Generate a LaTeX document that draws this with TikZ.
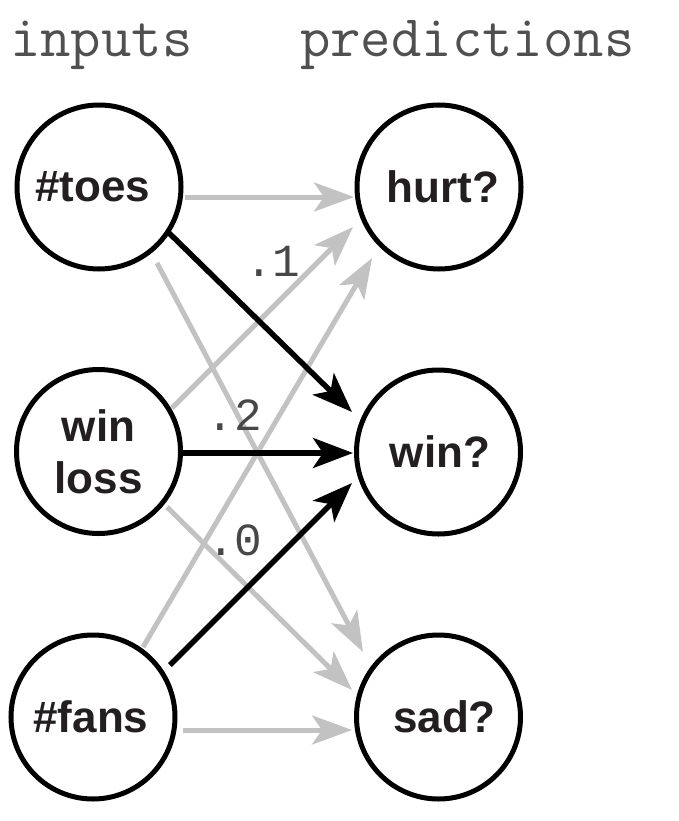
\documentclass[tikz,border=0pt]{standalone}
\usepackage{fontspec}
\setmainfont{Liberation Sans}
\newfontfamily\monofont{Liberation Mono}
\usetikzlibrary{arrows.meta}
\definecolor{txt}{HTML}{231F20}
\definecolor{hdr}{HTML}{505050}
\definecolor{lbl}{HTML}{474747}
\definecolor{weakgray}{HTML}{C2C2C2}
\begin{document}
\begin{tikzpicture}[x=1pt,y=-1pt,
  neuron/.style={circle,draw=black,line width=5pt,minimum size=164pt,inner sep=0pt,
    font=\fontsize{44}{52}\selectfont\bfseries,text=txt,align=center},
  weak/.style={draw=weakgray,fill=weakgray,line width=5pt,
    -{Stealth[length=40pt,width=29pt,inset=10pt]}},
  strong/.style={draw=black,fill=black,line width=5.5pt,
    -{Stealth[length=40pt,width=30pt,inset=10pt]}},
  header/.style={font=\fontsize{59}{62}\selectfont\ttfamily,text=hdr,anchor=base west,inner sep=0pt},
  wlabel/.style={font=\fontsize{46}{50}\selectfont\monofont,text=lbl,anchor=base,inner sep=0pt}]
\useasboundingbox (0,0) rectangle (679,821);

% headers
\node[header] (hin) at (10,57) {inputs};
\node[header] (hout) at (300,57) {predictions};

% neurons
\node[neuron] (toes) at (99,187) {\hspace*{-12pt}\#toes};
\node[neuron] (wl) at (98.5,451.5) {win\\loss};
\node[neuron] (fans) at (93,717) {\hspace*{-4pt}\#fans};
\node[neuron] (hurt) at (439,187) {\hspace*{8pt}hurt?};
\node[neuron] (win) at (438.5,452) {\hspace*{3pt}win?};
\node[neuron] (sad) at (438.5,717) {\hspace*{12pt}sad?};

% weak connections
\draw[weak] ([shift={(86,10)}]toes.center) -- ([shift={(-85,10)}]hurt.center);
\draw[weak] ([shift={(58,76)}]toes.center) -- ([shift={(-75.5,-65)}]sad.center);
\draw[weak] ([shift={(73.5,-43.5)}]wl.center) -- ([shift={(-86,40)}]hurt.center);
\draw[weak] ([shift={(68.5,55.5)}]wl.center) -- ([shift={(-86.5,-27)}]sad.center);
\draw[weak] ([shift={(50,-70)}]fans.center) -- ([shift={(-67,71)}]hurt.center);
\draw[weak] ([shift={(90,13)}]fans.center) -- ([shift={(-86.5,13)}]sad.center);

% strong connections
\draw[strong] ([shift={(69,45)}]toes.center) -- ([shift={(-86.5,-40)}]win.center);
\draw[strong] ([shift={(84.5,1.5)}]wl.center) -- ([shift={(-85.5,1)}]win.center);
\draw[strong] ([shift={(77,-52)}]fans.center) -- ([shift={(-86.5,31)}]win.center);

% weights
\node[wlabel] (w1) at (273,276) {.1};
\node[wlabel] (w2) at (234.5,430) {.2};
\node[wlabel] (w3) at (235,555) {.0};
\end{tikzpicture}
\end{document}
